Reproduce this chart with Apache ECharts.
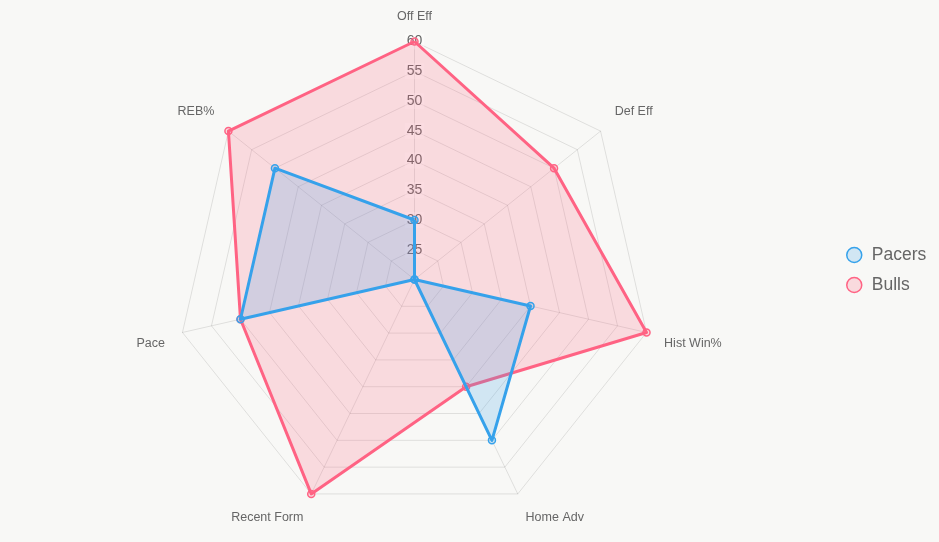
<!DOCTYPE html>
<html>
<head>
<meta charset="utf-8">
<script src="https://cdn.jsdelivr.net/npm/echarts@6/dist/echarts.min.js"></script>
<style>
html,body{margin:0;padding:0;background:#f8f8f6;}
#chart{width:939px;height:542px;}
</style>
</head>
<body>
<div id="chart"></div>
<script>
// Data (clockwise from top, as in the reference)
const categories = ['Off Eff', 'Def Eff', 'Hist Win%', 'Home Adv', 'Recent Form', 'Pace', 'REB%'];
const pacers = [30, 20, 40, 50, 20, 50, 50];
const bulls  = [60, 50, 60, 40, 60, 50, 60];
const scaleMin = 20;
const scaleMax = 60;
const scaleStep = 5;

// label placement style per category (Chart.js-like point label offsets)
const nameStyle = { 'Off Eff': 'n', 'Def Eff': 'up', 'Hist Win%': 'down', 'Home Adv': 'down',
                    'Recent Form': 'down', 'Pace': 'down', 'REB%': 'up' };

// ECharts lays radar indicators counter-clockwise; reorder to keep clockwise order
const order = [0].concat(categories.map((_, i) => i).slice(1).reverse());
const ind = order.map((i, k) => ({
  name: categories[i], min: scaleMin, max: scaleMax,
  axisLabel: { show: k === 0 }
}));
const reorder = arr => order.map(i => arr[i]);

const FONT = 'Liberation Sans, Arial, sans-serif';
const NAME_FS = 12.5;
const chart = echarts.init(document.getElementById('chart'));
chart.setOption({
  backgroundColor: '#f8f8f6',
  animation: false,
  legend: {
    orient: 'vertical',
    left: 841,
    top: 241,
    itemWidth: 15,
    itemHeight: 15,
    itemGap: 12,
    icon: 'circle',
    textStyle: { fontSize: 17.5, color: '#666', fontFamily: FONT, padding: [0, 0, 0, 5] },
    data: [
      { name: 'Pacers', itemStyle: { color: 'rgba(54,162,235,0.2)', borderColor: '#36a2eb', borderWidth: 1.5 } },
      { name: 'Bulls', itemStyle: { color: 'rgba(255,99,132,0.2)', borderColor: '#ff6384', borderWidth: 1.5 } }
    ]
  },
  radar: {
    center: [414.5, 279.5],
    radius: 238,
    startAngle: 90,
    shape: 'polygon',
    splitNumber: (scaleMax - scaleMin) / scaleStep,
    indicator: ind,
    nameGap: 18,
    axisName: {
      color: '#666', fontSize: NAME_FS, fontFamily: FONT,
      formatter: name => '{' + nameStyle[name] + '|' + name + '}',
      rich: {
        n: { color: '#666', fontSize: NAME_FS, fontFamily: FONT },
        up: { color: '#666', fontSize: NAME_FS, fontFamily: FONT, padding: [0, 0, 16, 0] },
        down: { color: '#666', fontSize: NAME_FS, fontFamily: FONT, padding: [14, 0, 0, 0] }
      }
    },
    splitLine: { lineStyle: { color: 'rgba(0,0,0,0.1)', width: 1 } },
    splitArea: { show: false },
    axisLine: { lineStyle: { color: 'rgba(0,0,0,0.1)', width: 1 } },
    axisTick: { show: false },
    axisLabel: {
      show: false,
      showMinLabel: false,
      color: '#666',
      fontSize: 14,
      fontFamily: FONT,
      backgroundColor: 'rgba(255,255,255,0.4)',
      padding: [1, 2],
      margin: 0,
      align: 'center',
      verticalAlign: 'middle'
    }
  },
  series: [
    {
      name: 'Bulls', type: 'radar', z: 2,
      symbol: 'circle', symbolSize: 7,
      lineStyle: { color: '#ff6384', width: 3 },
      areaStyle: { color: 'rgba(255,99,132,0.2)', opacity: 1 },
      itemStyle: { color: 'rgba(255,99,132,0.2)', borderColor: '#ff6384', borderWidth: 1.5 },
      data: [{ value: reorder(bulls), name: 'Bulls' }]
    },
    {
      name: 'Pacers', type: 'radar', z: 3,
      symbol: 'circle', symbolSize: 7,
      lineStyle: { color: '#36a2eb', width: 3 },
      areaStyle: { color: 'rgba(54,162,235,0.2)', opacity: 1 },
      itemStyle: { color: 'rgba(54,162,235,0.2)', borderColor: '#36a2eb', borderWidth: 1.5 },
      data: [{ value: reorder(pacers), name: 'Pacers' }]
    }
  ]
});
</script>
</body>
</html>
